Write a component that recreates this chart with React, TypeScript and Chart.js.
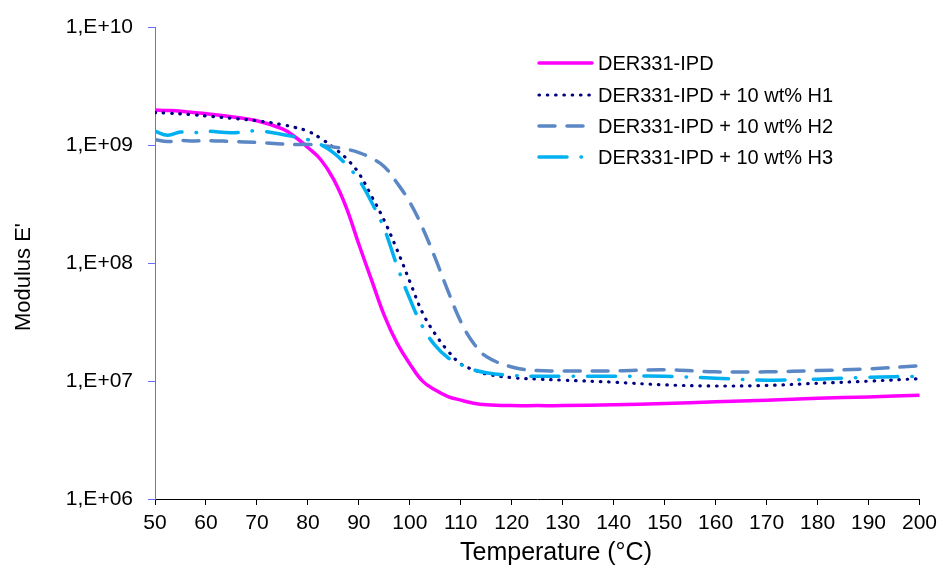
import React, { useEffect, useRef } from "react";
import { Chart, registerables } from "chart.js";

Chart.register(...registerables);

const temperatures = [
  50, 52.5, 55, 57.5, 60, 65, 70, 75, 77.5, 80, 82.5, 85, 87.5, 90, 92.5, 95, 97.5, 100,
  102.5, 105, 107.5, 110, 112.5, 115, 120, 125, 130, 140, 150, 160, 170, 180, 190, 200,
];

const seriesIPD = [
  2.0e9, 1.98e9, 1.95e9, 1.9e9, 1.86e9, 1.75e9, 1.62e9, 1.38e9, 1.18e9, 9.6e8, 7.6e8, 5.2e8,
  3.0e8, 1.45e8, 7.2e7, 3.6e7, 2.1e7, 1.4e7, 1.0e7, 8.4e6, 7.4e6, 6.9e6, 6.5e6, 6.3e6, 6.2e6,
  6.2e6, 6.2e6, 6.3e6, 6.45e6, 6.7e6, 6.9e6, 7.15e6, 7.35e6, 7.6e6,
];

const seriesH1 = [
  1.9e9, 1.88e9, 1.85e9, 1.82e9, 1.78e9, 1.7e9, 1.62e9, 1.5e9, 1.42e9, 1.32e9, 1.15e9, 9.6e8,
  7.8e8, 5.8e8, 3.7e8, 2.3e8, 1.3e8, 7.0e7, 3.8e7, 2.5e7, 1.8e7, 1.4e7, 1.25e7, 1.15e7, 1.07e7,
  1.04e7, 1.02e7, 9.8e6, 9.3e6, 9.1e6, 9.2e6, 9.6e6, 1.0e7, 1.05e7,
];

const seriesH2 = [
  1.12e9, 1.08e9, 1.1e9, 1.09e9, 1.1e9, 1.08e9, 1.06e9, 1.03e9, 1.02e9, 1.02e9, 1.0e9, 9.7e8,
  9.3e8, 8.7e8, 7.8e8, 6.6e8, 4.8e8, 3.3e8, 2.0e8, 1.1e8, 5.8e7, 3.2e7, 2.1e7, 1.62e7, 1.32e7,
  1.23e7, 1.22e7, 1.22e7, 1.25e7, 1.2e7, 1.2e7, 1.23e7, 1.27e7, 1.35e7,
];

const seriesH3 = [
  1.32e9, 1.22e9, 1.3e9, 1.28e9, 1.32e9, 1.28e9, 1.33e9, 1.24e9, 1.18e9, 1.12e9, 1.02e9, 8.7e8,
  6.9e8, 5.1e8, 3.3e8, 1.95e8, 9.5e7, 5.0e7, 2.9e7, 2.0e7, 1.58e7, 1.38e7, 1.25e7, 1.18e7, 1.12e7,
  1.1e7, 1.1e7, 1.1e7, 1.1e7, 1.06e7, 1.02e7, 1.04e7, 1.08e7, 1.1e7,
];

const seriesNames = [
  "DER331-IPD",
  "DER331-IPD + 10 wt% H1",
  "DER331-IPD + 10 wt% H2",
  "DER331-IPD + 10 wt% H3",
];

const yTickValues = [1e6, 1e7, 1e8, 1e9, 1e10];
const yTickLabels = ["1,E+06", "1,E+07", "1,E+08", "1,E+09", "1,E+10"];

const xTitle = "Temperature (°C)";
const yTitle = "Modulus E'";

const FONT = "'Liberation Sans', Arial, sans-serif";

const styles = [
  { color: "#ff00ff", width: 3.5, dash: [] as number[], cap: "round" },
  { color: "#000080", width: 3.2, dash: [0.5, 7.8], cap: "round" },
  { color: "#5b87c4", width: 3.5, dash: [16, 12], cap: "round" },
  { color: "#00b0f0", width: 3.5, dash: [28, 14, 0.5, 14], cap: "round" },
];

const toPoints = (vals: number[]) => vals.map((v, i) => ({ x: temperatures[i], y: v }));

const overlayPlugin = {
  id: "overlay",
  afterDraw(chart: any) {
    const ctx = chart.ctx as CanvasRenderingContext2D;
    ctx.save();
    ctx.fillStyle = "#000";
    ctx.textAlign = "center";
    ctx.textBaseline = "middle";
    ctx.font = `25px ${FONT}`;
    ctx.fillText(xTitle, 556, 553);
    ctx.save();
    ctx.translate(24, 277);
    ctx.rotate(-Math.PI / 2);
    ctx.font = `22px ${FONT}`;
    ctx.fillText(yTitle, 0, 0);
    ctx.restore();

    const rows = [63, 95, 126, 157];
    seriesNames.forEach((name, i) => {
      const s = styles[i];
      const y = rows[i];
      ctx.beginPath();
      ctx.strokeStyle = s.color;
      ctx.lineWidth = s.width;
      ctx.lineCap = s.cap as CanvasLineCap;
      ctx.setLineDash(s.dash);
      ctx.moveTo(539, y);
      ctx.lineTo(592, y);
      ctx.stroke();
      ctx.setLineDash([]);
      ctx.fillStyle = "#000";
      ctx.textAlign = "left";
      ctx.textBaseline = "middle";
      ctx.font = `20px ${FONT}`;
      ctx.fillText(name, 598, y + 1);
    });
    ctx.restore();
  },
};

export default function App() {
  const ref = useRef<HTMLCanvasElement | null>(null);

  useEffect(() => {
    if (!ref.current) return;
    const allSeries = [seriesIPD, seriesH1, seriesH2, seriesH3];
    const chart = new Chart(ref.current, {
      type: "line",
      data: {
        datasets: allSeries.map((vals, i) => ({
          label: seriesNames[i],
          data: toPoints(vals),
          borderColor: styles[i].color,
          borderWidth: styles[i].width,
          borderDash: styles[i].dash,
          borderCapStyle: styles[i].cap as CanvasLineCap,
          borderJoinStyle: "round" as CanvasLineJoin,
          pointRadius: 0,
          fill: false,
          tension: 0.4,
          order: 3 - i,
        })),
      },
      options: {
        responsive: false,
        animation: false,
        layout: { padding: { top: 20, right: 21, left: 0, bottom: 0 } },
        plugins: { legend: { display: false }, tooltip: { enabled: false } },
        scales: {
          x: {
            type: "linear",
            min: 50,
            max: 200,
            ticks: {
              stepSize: 10,
              color: "#000",
              font: { family: FONT, size: 21 },
              padding: 6,
              maxRotation: 0,
              autoSkip: false,
            },
            grid: { display: true, drawOnChartArea: false, drawTicks: true, tickLength: 6, color: "#000" },
            border: { color: "#000", width: 1 },
            afterFit: (s: any) => {
              s.height = 72;
            },
          },
          y: {
            type: "logarithmic",
            min: 1e6,
            max: 1e10,
            afterBuildTicks: (s: any) => {
              s.ticks = yTickValues.map((v) => ({ value: v }));
            },
            ticks: {
              color: "#000",
              font: { family: FONT, size: 21 },
              padding: 15,
              autoSkip: false,
              callback: (v: any) => {
                const idx = yTickValues.indexOf(Number(v));
                return idx >= 0 ? yTickLabels[idx] : "";
              },
            },
            grid: { display: true, drawOnChartArea: false, drawTicks: true, tickLength: 7, color: "#6a6aff" },
            border: { color: "#6a6aff", width: 1 },
            afterFit: (s: any) => {
              s.width = 155;
            },
          },
        },
      },
      plugins: [overlayPlugin],
    });
    return () => chart.destroy();
  }, []);

  return (
    <div style={{ position: "absolute", left: 0, top: 0, width: 943, height: 571, background: "#fff" }}>
      <canvas ref={ref} width={943} height={571} style={{ display: "block" }} />
    </div>
  );
}
